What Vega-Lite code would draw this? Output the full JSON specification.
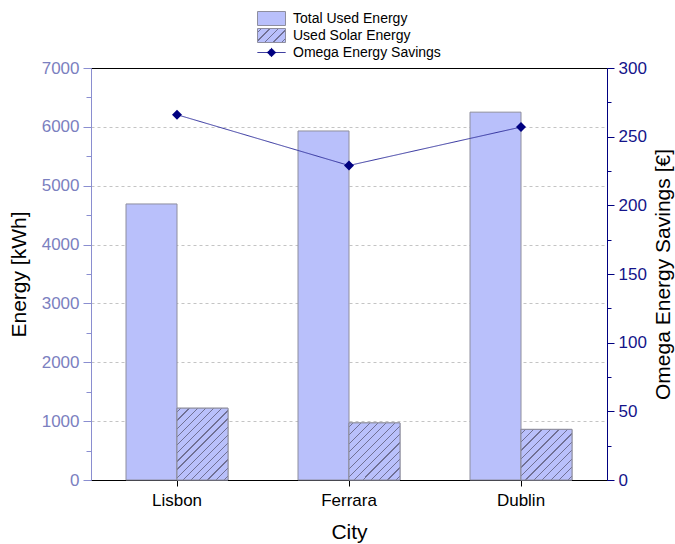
{
  "$schema": "https://vega.github.io/schema/vega-lite/v6.json",
  "width": 516,
  "height": 412,
  "padding": {"left": 8, "top": 11, "right": 5, "bottom": 5},
  "data": {"values": [
    {"City": "Lisbon", "Series": "Total Used Energy", "Energy": 4690},
    {"City": "Lisbon", "Series": "Used Solar Energy", "Energy": 1220},
    {"City": "Ferrara", "Series": "Total Used Energy", "Energy": 5930},
    {"City": "Ferrara", "Series": "Used Solar Energy", "Energy": 970},
    {"City": "Dublin", "Series": "Total Used Energy", "Energy": 6250},
    {"City": "Dublin", "Series": "Used Solar Energy", "Energy": 860},
    {"City": "Lisbon", "Series": "Omega Energy Savings", "Savings": 266},
    {"City": "Ferrara", "Series": "Omega Energy Savings", "Savings": 229},
    {"City": "Dublin", "Series": "Omega Energy Savings", "Savings": 257}
  ]},
  "encoding": {
    "x": {
      "field": "City", "type": "nominal",
      "scale": {"domain": ["Lisbon", "Ferrara", "Dublin"], "paddingInner": 0.407, "paddingOuter": 0.2035},
      "axis": {"title": "City", "labelAngle": 0, "domainColor": "black", "tickColor": "black", "tickSize": 6, "labelColor": "black", "labelPadding": 6, "titlePadding": 13}
    }
  },
  "layer": [
    {
      "transform": [{"filter": "datum.Series !== 'Omega Energy Savings'"}],
      "encoding": {
        "xOffset": {"field": "Series", "type": "nominal", "scale": {"domain": ["Total Used Energy", "Used Solar Energy"], "paddingInner": 0, "paddingOuter": 0}},
        "y": {
          "field": "Energy", "type": "quantitative",
          "scale": {"domain": [0, 7000], "nice": false},
          "axis": {
            "title": "Energy [kWh]",
            "values": [0, 500, 1000, 1500, 2000, 2500, 3000, 3500, 4000, 4500, 5000, 5500, 6000, 6500, 7000],
            "format": "d",
            "labelExpr": "datum.value % 1000 === 0 ? datum.label : ''",
            "labelColor": "#7b80c0",
            "domainColor": "#8a8ed0",
            "tickColor": "#8a8ed0",
            "tickSize": {"condition": {"test": "datum.value % 1000 === 0", "value": 8}, "value": 5},
            "labelPadding": 4,
            "titlePadding": 12,
            "grid": true,
            "gridColor": "#c4c4c4",
            "gridDash": [3, 3],
            "gridOpacity": {"condition": {"test": "datum.value % 1000 === 0 && datum.value > 0 && datum.value < 7000", "value": 1}, "value": 0}
          }
        }
      },
      "layer": [
        {
          "mark": {"type": "bar", "stroke": "#8e8e9e", "strokeWidth": 1},
          "encoding": {
            "color": {
              "field": "Series", "type": "nominal",
              "scale": {"domain": ["Total Used Energy", "Used Solar Energy"], "range": ["#b9c0fb", {"expr": "{gradient: 'linear', x1: 0, y1: 0, x2: 1.2, y2: 0.6, stops: [{offset: 0, color: '#b9c0fb'}, {offset: 0.085, color: '#b9c0fb'}, {offset: 0.085, color: '#707094'}, {offset: 0.115, color: '#707094'}, {offset: 0.115, color: '#b9c0fb'}, {offset: 0.285, color: '#b9c0fb'}, {offset: 0.285, color: '#707094'}, {offset: 0.315, color: '#707094'}, {offset: 0.315, color: '#b9c0fb'}, {offset: 0.485, color: '#b9c0fb'}, {offset: 0.485, color: '#707094'}, {offset: 0.515, color: '#707094'}, {offset: 0.515, color: '#b9c0fb'}, {offset: 0.685, color: '#b9c0fb'}, {offset: 0.685, color: '#707094'}, {offset: 0.715, color: '#707094'}, {offset: 0.715, color: '#b9c0fb'}, {offset: 0.885, color: '#b9c0fb'}, {offset: 0.885, color: '#707094'}, {offset: 0.915, color: '#707094'}, {offset: 0.915, color: '#b9c0fb'}, {offset: 1, color: '#b9c0fb'}]}"}]},
              "legend": {
                "orient": "none", "legendX": 173, "legendY": -57, "direction": "vertical", "title": null,
                "labelFontSize": 14, "labelColor": "black", "symbolSize": 196, "labelOffset": 14, "rowPadding": -3,
                "symbolType": "M-2,-1H2V1H-2Z", "symbolStrokeColor": "#8e8e9e", "symbolStrokeWidth": 1, "symbolOpacity": 1
              }
            }
          }
        },
        {
          "transform": [{"filter": "datum.Series === 'Used Solar Energy'"}],
          "mark": {"type": "bar", "stroke": "#8e8e9e", "strokeWidth": 1},
          "encoding": {
            "fill": {
              "condition": [
                {"test": "datum.City === 'Lisbon'", "value": {"gradient": "linear", "x1": 0, "y1": 0, "x2": 0.807, "y2": 1.137, "stops": [
                  {"offset": 0, "color": "#b9c0fb"},
                  {"offset": 0.0283, "color": "#b9c0fb"}, {"offset": 0.0283, "color": "#707094"}, {"offset": 0.0383, "color": "#707094"}, {"offset": 0.0383, "color": "#b9c0fb"},
                  {"offset": 0.095, "color": "#b9c0fb"}, {"offset": 0.095, "color": "#707094"}, {"offset": 0.105, "color": "#707094"}, {"offset": 0.105, "color": "#b9c0fb"},
                  {"offset": 0.1617, "color": "#b9c0fb"}, {"offset": 0.1617, "color": "#707094"}, {"offset": 0.1717, "color": "#707094"}, {"offset": 0.1717, "color": "#b9c0fb"},
                  {"offset": 0.2283, "color": "#b9c0fb"}, {"offset": 0.2283, "color": "#707094"}, {"offset": 0.2383, "color": "#707094"}, {"offset": 0.2383, "color": "#b9c0fb"},
                  {"offset": 0.295, "color": "#b9c0fb"}, {"offset": 0.295, "color": "#707094"}, {"offset": 0.305, "color": "#707094"}, {"offset": 0.305, "color": "#b9c0fb"},
                  {"offset": 0.3617, "color": "#b9c0fb"}, {"offset": 0.3617, "color": "#707094"}, {"offset": 0.3717, "color": "#707094"}, {"offset": 0.3717, "color": "#b9c0fb"},
                  {"offset": 0.4283, "color": "#b9c0fb"}, {"offset": 0.4283, "color": "#707094"}, {"offset": 0.4383, "color": "#707094"}, {"offset": 0.4383, "color": "#b9c0fb"},
                  {"offset": 0.495, "color": "#b9c0fb"}, {"offset": 0.495, "color": "#707094"}, {"offset": 0.505, "color": "#707094"}, {"offset": 0.505, "color": "#b9c0fb"},
                  {"offset": 0.5617, "color": "#b9c0fb"}, {"offset": 0.5617, "color": "#707094"}, {"offset": 0.5717, "color": "#707094"}, {"offset": 0.5717, "color": "#b9c0fb"},
                  {"offset": 0.6283, "color": "#b9c0fb"}, {"offset": 0.6283, "color": "#707094"}, {"offset": 0.6383, "color": "#707094"}, {"offset": 0.6383, "color": "#b9c0fb"},
                  {"offset": 0.695, "color": "#b9c0fb"}, {"offset": 0.695, "color": "#707094"}, {"offset": 0.705, "color": "#707094"}, {"offset": 0.705, "color": "#b9c0fb"},
                  {"offset": 0.7617, "color": "#b9c0fb"}, {"offset": 0.7617, "color": "#707094"}, {"offset": 0.7717, "color": "#707094"}, {"offset": 0.7717, "color": "#b9c0fb"},
                  {"offset": 0.8283, "color": "#b9c0fb"}, {"offset": 0.8283, "color": "#707094"}, {"offset": 0.8383, "color": "#707094"}, {"offset": 0.8383, "color": "#b9c0fb"},
                  {"offset": 0.895, "color": "#b9c0fb"}, {"offset": 0.895, "color": "#707094"}, {"offset": 0.905, "color": "#707094"}, {"offset": 0.905, "color": "#b9c0fb"},
                  {"offset": 0.9617, "color": "#b9c0fb"}, {"offset": 0.9617, "color": "#707094"}, {"offset": 0.9717, "color": "#707094"}, {"offset": 0.9717, "color": "#b9c0fb"},
                  {"offset": 1, "color": "#b9c0fb"}
                ]}},
                {"test": "datum.City === 'Ferrara'", "value": {"gradient": "linear", "x1": 0, "y1": 0, "x2": 0.941, "y2": 1.053, "stops": [
                  {"offset": 0, "color": "#b9c0fb"},
                  {"offset": 0.033, "color": "#b9c0fb"}, {"offset": 0.033, "color": "#707094"}, {"offset": 0.044, "color": "#707094"}, {"offset": 0.044, "color": "#b9c0fb"},
                  {"offset": 0.1099, "color": "#b9c0fb"}, {"offset": 0.1099, "color": "#707094"}, {"offset": 0.1209, "color": "#707094"}, {"offset": 0.1209, "color": "#b9c0fb"},
                  {"offset": 0.1868, "color": "#b9c0fb"}, {"offset": 0.1868, "color": "#707094"}, {"offset": 0.1978, "color": "#707094"}, {"offset": 0.1978, "color": "#b9c0fb"},
                  {"offset": 0.2637, "color": "#b9c0fb"}, {"offset": 0.2637, "color": "#707094"}, {"offset": 0.2747, "color": "#707094"}, {"offset": 0.2747, "color": "#b9c0fb"},
                  {"offset": 0.3407, "color": "#b9c0fb"}, {"offset": 0.3407, "color": "#707094"}, {"offset": 0.3517, "color": "#707094"}, {"offset": 0.3517, "color": "#b9c0fb"},
                  {"offset": 0.4176, "color": "#b9c0fb"}, {"offset": 0.4176, "color": "#707094"}, {"offset": 0.4286, "color": "#707094"}, {"offset": 0.4286, "color": "#b9c0fb"},
                  {"offset": 0.4945, "color": "#b9c0fb"}, {"offset": 0.4945, "color": "#707094"}, {"offset": 0.5055, "color": "#707094"}, {"offset": 0.5055, "color": "#b9c0fb"},
                  {"offset": 0.5714, "color": "#b9c0fb"}, {"offset": 0.5714, "color": "#707094"}, {"offset": 0.5824, "color": "#707094"}, {"offset": 0.5824, "color": "#b9c0fb"},
                  {"offset": 0.6483, "color": "#b9c0fb"}, {"offset": 0.6483, "color": "#707094"}, {"offset": 0.6593, "color": "#707094"}, {"offset": 0.6593, "color": "#b9c0fb"},
                  {"offset": 0.7253, "color": "#b9c0fb"}, {"offset": 0.7253, "color": "#707094"}, {"offset": 0.7363, "color": "#707094"}, {"offset": 0.7363, "color": "#b9c0fb"},
                  {"offset": 0.8022, "color": "#b9c0fb"}, {"offset": 0.8022, "color": "#707094"}, {"offset": 0.8132, "color": "#707094"}, {"offset": 0.8132, "color": "#b9c0fb"},
                  {"offset": 0.8791, "color": "#b9c0fb"}, {"offset": 0.8791, "color": "#707094"}, {"offset": 0.8901, "color": "#707094"}, {"offset": 0.8901, "color": "#b9c0fb"},
                  {"offset": 0.956, "color": "#b9c0fb"}, {"offset": 0.956, "color": "#707094"}, {"offset": 0.967, "color": "#707094"}, {"offset": 0.967, "color": "#b9c0fb"},
                  {"offset": 1, "color": "#b9c0fb"}
                ]}}
              ],
              "value": {"gradient": "linear", "x1": 0, "y1": 0, "x2": 1.004, "y2": 0.996, "stops": [
                {"offset": 0, "color": "#b9c0fb"},
                {"offset": 0.0357, "color": "#b9c0fb"}, {"offset": 0.0357, "color": "#707094"}, {"offset": 0.0477, "color": "#707094"}, {"offset": 0.0477, "color": "#b9c0fb"},
                {"offset": 0.119, "color": "#b9c0fb"}, {"offset": 0.119, "color": "#707094"}, {"offset": 0.131, "color": "#707094"}, {"offset": 0.131, "color": "#b9c0fb"},
                {"offset": 0.2023, "color": "#b9c0fb"}, {"offset": 0.2023, "color": "#707094"}, {"offset": 0.2143, "color": "#707094"}, {"offset": 0.2143, "color": "#b9c0fb"},
                {"offset": 0.2857, "color": "#b9c0fb"}, {"offset": 0.2857, "color": "#707094"}, {"offset": 0.2977, "color": "#707094"}, {"offset": 0.2977, "color": "#b9c0fb"},
                {"offset": 0.369, "color": "#b9c0fb"}, {"offset": 0.369, "color": "#707094"}, {"offset": 0.381, "color": "#707094"}, {"offset": 0.381, "color": "#b9c0fb"},
                {"offset": 0.4523, "color": "#b9c0fb"}, {"offset": 0.4523, "color": "#707094"}, {"offset": 0.4643, "color": "#707094"}, {"offset": 0.4643, "color": "#b9c0fb"},
                {"offset": 0.5357, "color": "#b9c0fb"}, {"offset": 0.5357, "color": "#707094"}, {"offset": 0.5477, "color": "#707094"}, {"offset": 0.5477, "color": "#b9c0fb"},
                {"offset": 0.619, "color": "#b9c0fb"}, {"offset": 0.619, "color": "#707094"}, {"offset": 0.631, "color": "#707094"}, {"offset": 0.631, "color": "#b9c0fb"},
                {"offset": 0.7023, "color": "#b9c0fb"}, {"offset": 0.7023, "color": "#707094"}, {"offset": 0.7143, "color": "#707094"}, {"offset": 0.7143, "color": "#b9c0fb"},
                {"offset": 0.7857, "color": "#b9c0fb"}, {"offset": 0.7857, "color": "#707094"}, {"offset": 0.7977, "color": "#707094"}, {"offset": 0.7977, "color": "#b9c0fb"},
                {"offset": 0.869, "color": "#b9c0fb"}, {"offset": 0.869, "color": "#707094"}, {"offset": 0.881, "color": "#707094"}, {"offset": 0.881, "color": "#b9c0fb"},
                {"offset": 0.9523, "color": "#b9c0fb"}, {"offset": 0.9523, "color": "#707094"}, {"offset": 0.9643, "color": "#707094"}, {"offset": 0.9643, "color": "#b9c0fb"},
                {"offset": 1, "color": "#b9c0fb"}
              ]}
            }
          }
        }
      ]
    },
    {
      "transform": [{"filter": "datum.Series === 'Omega Energy Savings'"}],
      "encoding": {
        "y": {
          "field": "Savings", "type": "quantitative",
          "scale": {"domain": [0, 300], "nice": false},
          "axis": {
            "orient": "right",
            "title": "Omega Energy Savings [€]",
            "titleAngle": 270,
            "titleBaseline": "top",
            "values": [0, 25, 50, 75, 100, 125, 150, 175, 200, 225, 250, 275, 300],
            "labelExpr": "datum.value % 50 === 0 ? datum.label : ''",
            "labelColor": "#14148a",
            "domainColor": "#000080",
            "tickColor": "#000080",
            "tickSize": {"condition": {"test": "datum.value % 50 === 0", "value": 7}, "value": 4},
            "labelPadding": 4,
            "titlePadding": 6,
            "grid": false
          }
        }
      },
      "layer": [
        {
          "mark": {"type": "line", "stroke": "#34349f", "strokeWidth": 1},
          "encoding": {
            "strokeDash": {
              "field": "Series", "type": "nominal",
              "scale": {"domain": ["Omega Energy Savings"], "range": [[1, 0]]},
              "legend": {
                "orient": "none", "legendX": 173, "legendY": -23, "direction": "vertical", "title": null,
                "labelFontSize": 14, "labelColor": "black", "symbolSize": 196, "labelOffset": 14,
                "symbolType": "M-2,0H2M0,-0.6L0.6,0L0,0.6L-0.6,0ZM0,-0.4L0.4,0L0,0.4L-0.4,0ZM0,-0.2L0.2,0L0,0.2L-0.2,0Z",
                "symbolFillColor": "#000080", "symbolStrokeColor": "#000080", "symbolStrokeWidth": 1, "symbolOpacity": 1
              }
            }
          }
        },
        {"mark": {"type": "point", "shape": "diamond", "size": 100, "filled": true, "fill": "#000080", "opacity": 1, "strokeWidth": 0}}
      ]
    }
  ],
  "resolve": {"scale": {"y": "independent"}},
  "config": {
    "font": "Liberation Sans",
    "view": {"stroke": "black", "strokeWidth": 1},
    "axis": {"titleFontWeight": "normal", "titleFontSize": 21, "labelFontSize": 17, "titleColor": "black", "labelFont": "Liberation Sans", "titleFont": "Liberation Sans"},
    "legend": {"labelFont": "Liberation Sans"}
  }
}
